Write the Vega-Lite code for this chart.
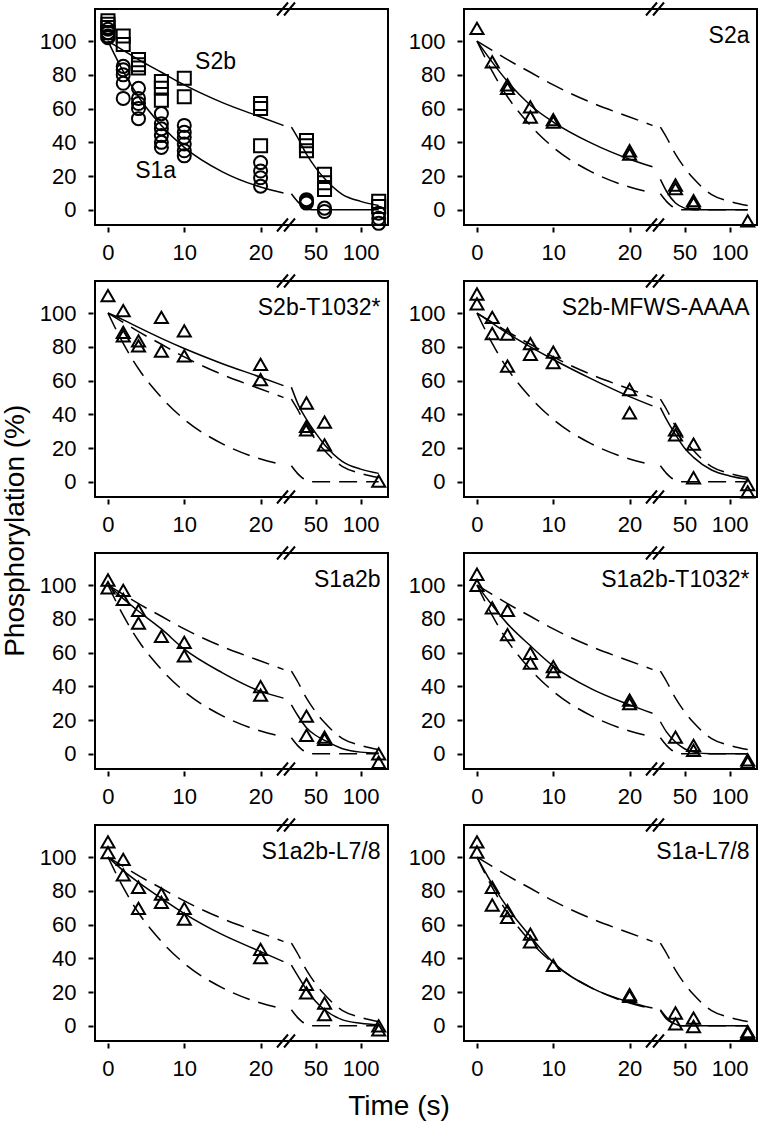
{
"$schema": "https://vega.github.io/schema/vega-lite/v6.json",
"background": "white",
"padding": {"left": 2, "top": 0, "right": 2, "bottom": 0},
"title": {"text": "Phosphorylation (%)", "orient": "left", "anchor": "middle", "fontSize": 28, "fontWeight": "normal", "font": "Liberation Sans", "color": "black", "offset": 8, "dx": 30},
"data": {"values": [
{"k":"P","ps":[1],"lab":""},
{"k":"P","ps":[2],"lab":"S2a"},
{"k":"P","ps":[3],"lab":"S2b-T1032*"},
{"k":"P","ps":[4],"lab":"S2b-MFWS-AAAA"},
{"k":"P","ps":[5],"lab":"S1a2b"},
{"k":"P","ps":[6],"lab":"S1a2b-T1032*"},
{"k":"P","ps":[7],"lab":"S1a2b-L7/8"},
{"k":"P","ps":[8],"lab":"S1a-L7/8"},
{"k":"A","ps":[1],"lab":"S2b","t":14.1,"v":87.7},
{"k":"A","ps":[1],"lab":"S1a","t":6.25,"v":23.2},

{"k":"ref","c":"S2b","g":1,"ps":[1,2,3,4,5,6,7,8],"t":0,"v":100},
{"k":"ref","c":"S2b","g":1,"ps":[1,2,3,4,5,6,7,8],"t":2,"v":94.5},
{"k":"ref","c":"S2b","g":1,"ps":[1,2,3,4,5,6,7,8],"t":4,"v":89},
{"k":"ref","c":"S2b","g":1,"ps":[1,2,3,4,5,6,7,8],"t":7,"v":81.5},
{"k":"ref","c":"S2b","g":1,"ps":[1,2,3,4,5,6,7,8],"t":10,"v":74},
{"k":"ref","c":"S2b","g":1,"ps":[1,2,3,4,5,6,7,8],"t":15,"v":63.5},
{"k":"ref","c":"S2b","g":1,"ps":[1,2,3,4,5,6,7,8],"t":20,"v":55},
{"k":"ref","c":"S2b","g":1,"ps":[1,2,3,4,5,6,7,8],"t":23,"v":50},
{"k":"ref","c":"S2b","g":2,"ps":[1,2,3,4,5,6,7,8],"t":23.3,"v":49},
{"k":"ref","c":"S2b","g":2,"ps":[1,2,3,4,5,6,7,8],"t":30,"v":43},
{"k":"ref","c":"S2b","g":2,"ps":[1,2,3,4,5,6,7,8],"t":40,"v":33},
{"k":"ref","c":"S2b","g":2,"ps":[1,2,3,4,5,6,7,8],"t":50,"v":25},
{"k":"ref","c":"S2b","g":2,"ps":[1,2,3,4,5,6,7,8],"t":60,"v":18.5},
{"k":"ref","c":"S2b","g":2,"ps":[1,2,3,4,5,6,7,8],"t":80,"v":9},
{"k":"ref","c":"S2b","g":2,"ps":[1,2,3,4,5,6,7,8],"t":100,"v":5},
{"k":"ref","c":"S2b","g":2,"ps":[1,2,3,4,5,6,7,8],"t":120,"v":2.5},
{"k":"ref","c":"S1a","g":1,"ps":[1,2,3,4,5,6,7,8],"t":0,"v":100},
{"k":"ref","c":"S1a","g":1,"ps":[1,2,3,4,5,6,7,8],"t":2,"v":82},
{"k":"ref","c":"S1a","g":1,"ps":[1,2,3,4,5,6,7,8],"t":4,"v":67},
{"k":"ref","c":"S1a","g":1,"ps":[1,2,3,4,5,6,7,8],"t":7,"v":50},
{"k":"ref","c":"S1a","g":1,"ps":[1,2,3,4,5,6,7,8],"t":10,"v":37},
{"k":"ref","c":"S1a","g":1,"ps":[1,2,3,4,5,6,7,8],"t":15,"v":22.5},
{"k":"ref","c":"S1a","g":1,"ps":[1,2,3,4,5,6,7,8],"t":20,"v":13.5},
{"k":"ref","c":"S1a","g":1,"ps":[1,2,3,4,5,6,7,8],"t":23,"v":10},
{"k":"ref","c":"S1a","g":2,"ps":[1,2,3,4,5,6,7,8],"t":23.3,"v":9.5},
{"k":"ref","c":"S1a","g":2,"ps":[1,2,3,4,5,6,7,8],"t":30,"v":5},
{"k":"ref","c":"S1a","g":2,"ps":[1,2,3,4,5,6,7,8],"t":35,"v":2.5},
{"k":"ref","c":"S1a","g":2,"ps":[1,2,3,4,5,6,7,8],"t":40,"v":1},
{"k":"ref","c":"S1a","g":2,"ps":[1,2,3,4,5,6,7,8],"t":46,"v":0},
{"k":"ref","c":"S1a","g":2,"ps":[1,2,3,4,5,6,7,8],"t":60,"v":0},
{"k":"ref","c":"S1a","g":2,"ps":[1,2,3,4,5,6,7,8],"t":80,"v":0},
{"k":"ref","c":"S1a","g":2,"ps":[1,2,3,4,5,6,7,8],"t":120,"v":0},

{"k":"fit","g":1,"ps":[2],"t":0,"v":100},{"k":"fit","g":1,"ps":[2],"t":2,"v":87.5},{"k":"fit","g":1,"ps":[2],"t":4,"v":76},{"k":"fit","g":1,"ps":[2],"t":7,"v":62},{"k":"fit","g":1,"ps":[2],"t":10,"v":52},{"k":"fit","g":1,"ps":[2],"t":15,"v":39.5},{"k":"fit","g":1,"ps":[2],"t":20,"v":30},{"k":"fit","g":1,"ps":[2],"t":23,"v":25.5},
{"k":"fit","g":2,"ps":[2],"t":23.3,"v":18},{"k":"fit","g":2,"ps":[2],"t":30,"v":11},{"k":"fit","g":2,"ps":[2],"t":40,"v":4},{"k":"fit","g":2,"ps":[2],"t":50,"v":1},{"k":"fit","g":2,"ps":[2],"t":60,"v":0},{"k":"fit","g":2,"ps":[2],"t":120,"v":0},

{"k":"fit","g":1,"ps":[3],"t":0,"v":100},{"k":"fit","g":1,"ps":[3],"t":2,"v":96},{"k":"fit","g":1,"ps":[3],"t":4,"v":91.5},{"k":"fit","g":1,"ps":[3],"t":7,"v":85},{"k":"fit","g":1,"ps":[3],"t":10,"v":79},{"k":"fit","g":1,"ps":[3],"t":15,"v":70},{"k":"fit","g":1,"ps":[3],"t":20,"v":62},{"k":"fit","g":1,"ps":[3],"t":23,"v":57},
{"k":"fit","g":2,"ps":[3],"t":23.3,"v":56},{"k":"fit","g":2,"ps":[3],"t":31.5,"v":45},{"k":"fit","g":2,"ps":[3],"t":40,"v":37},{"k":"fit","g":2,"ps":[3],"t":50,"v":29},{"k":"fit","g":2,"ps":[3],"t":60,"v":22},{"k":"fit","g":2,"ps":[3],"t":80,"v":12},{"k":"fit","g":2,"ps":[3],"t":100,"v":7.5},{"k":"fit","g":2,"ps":[3],"t":120,"v":5},

{"k":"fit","g":1,"ps":[4],"t":0,"v":100},{"k":"fit","g":1,"ps":[4],"t":2,"v":94},{"k":"fit","g":1,"ps":[4],"t":4,"v":88},{"k":"fit","g":1,"ps":[4],"t":7,"v":80},{"k":"fit","g":1,"ps":[4],"t":10,"v":72.5},{"k":"fit","g":1,"ps":[4],"t":15,"v":61},{"k":"fit","g":1,"ps":[4],"t":20,"v":50.5},{"k":"fit","g":1,"ps":[4],"t":23,"v":45},
{"k":"fit","g":2,"ps":[4],"t":23.3,"v":44},{"k":"fit","g":2,"ps":[4],"t":30,"v":37},{"k":"fit","g":2,"ps":[4],"t":40,"v":28},{"k":"fit","g":2,"ps":[4],"t":50,"v":20},{"k":"fit","g":2,"ps":[4],"t":60,"v":14.5},{"k":"fit","g":2,"ps":[4],"t":80,"v":7},{"k":"fit","g":2,"ps":[4],"t":100,"v":3.5},{"k":"fit","g":2,"ps":[4],"t":120,"v":1.5},

{"k":"fit","g":1,"ps":[5],"t":0,"v":100},{"k":"fit","g":1,"ps":[5],"t":2,"v":92},{"k":"fit","g":1,"ps":[5],"t":4,"v":84.5},{"k":"fit","g":1,"ps":[5],"t":7,"v":74},{"k":"fit","g":1,"ps":[5],"t":10,"v":62},{"k":"fit","g":1,"ps":[5],"t":15,"v":48},{"k":"fit","g":1,"ps":[5],"t":20,"v":37},{"k":"fit","g":1,"ps":[5],"t":23,"v":33},
{"k":"fit","g":2,"ps":[5],"t":23.3,"v":29},{"k":"fit","g":2,"ps":[5],"t":30,"v":23},{"k":"fit","g":2,"ps":[5],"t":40,"v":15.5},{"k":"fit","g":2,"ps":[5],"t":50,"v":11},{"k":"fit","g":2,"ps":[5],"t":60,"v":8},{"k":"fit","g":2,"ps":[5],"t":80,"v":3},{"k":"fit","g":2,"ps":[5],"t":100,"v":1},{"k":"fit","g":2,"ps":[5],"t":120,"v":0.5},

{"k":"fit","g":1,"ps":[6],"t":0,"v":100},{"k":"fit","g":1,"ps":[6],"t":2,"v":88},{"k":"fit","g":1,"ps":[6],"t":4,"v":77},{"k":"fit","g":1,"ps":[6],"t":7,"v":64},{"k":"fit","g":1,"ps":[6],"t":10,"v":52},{"k":"fit","g":1,"ps":[6],"t":15,"v":38.5},{"k":"fit","g":1,"ps":[6],"t":20,"v":29},{"k":"fit","g":1,"ps":[6],"t":23,"v":24},
{"k":"fit","g":2,"ps":[6],"t":23.3,"v":19},{"k":"fit","g":2,"ps":[6],"t":30,"v":13},{"k":"fit","g":2,"ps":[6],"t":40,"v":7},{"k":"fit","g":2,"ps":[6],"t":50,"v":3},{"k":"fit","g":2,"ps":[6],"t":60,"v":1},{"k":"fit","g":2,"ps":[6],"t":80,"v":0},{"k":"fit","g":2,"ps":[6],"t":120,"v":0},

{"k":"fit","g":1,"ps":[7],"t":0,"v":100},{"k":"fit","g":1,"ps":[7],"t":2,"v":92},{"k":"fit","g":1,"ps":[7],"t":4,"v":85},{"k":"fit","g":1,"ps":[7],"t":7,"v":75.5},{"k":"fit","g":1,"ps":[7],"t":10,"v":66.5},{"k":"fit","g":1,"ps":[7],"t":15,"v":54},{"k":"fit","g":1,"ps":[7],"t":20,"v":44},{"k":"fit","g":1,"ps":[7],"t":23,"v":38},
{"k":"fit","g":2,"ps":[7],"t":23.3,"v":36},{"k":"fit","g":2,"ps":[7],"t":30,"v":30},{"k":"fit","g":2,"ps":[7],"t":40,"v":21.5},{"k":"fit","g":2,"ps":[7],"t":50,"v":14.5},{"k":"fit","g":2,"ps":[7],"t":60,"v":9.5},{"k":"fit","g":2,"ps":[7],"t":80,"v":3.5},{"k":"fit","g":2,"ps":[7],"t":100,"v":1.5},{"k":"fit","g":2,"ps":[7],"t":120,"v":0.5},

{"k":"fit","g":1,"ps":[8],"t":0,"v":100},{"k":"fit","g":1,"ps":[8],"t":2,"v":84},{"k":"fit","g":1,"ps":[8],"t":4,"v":70},{"k":"fit","g":1,"ps":[8],"t":7,"v":53},{"k":"fit","g":1,"ps":[8],"t":10,"v":37.5},{"k":"fit","g":1,"ps":[8],"t":15,"v":22.5},{"k":"fit","g":1,"ps":[8],"t":20,"v":14},{"k":"fit","g":1,"ps":[8],"t":23,"v":10.5},
{"k":"fit","g":2,"ps":[8],"t":23.3,"v":9},{"k":"fit","g":2,"ps":[8],"t":30,"v":4},{"k":"fit","g":2,"ps":[8],"t":40,"v":1},{"k":"fit","g":2,"ps":[8],"t":46,"v":0},{"k":"fit","g":2,"ps":[8],"t":60,"v":0},{"k":"fit","g":2,"ps":[8],"t":120,"v":0},

{"k":"pt","sh":"sq","ps":[1],"t":0,"v":112},{"k":"pt","sh":"sq","ps":[1],"t":0,"v":110},{"k":"pt","sh":"sq","ps":[1],"t":0,"v":108},{"k":"pt","sh":"sq","ps":[1],"t":0,"v":105},
{"k":"pt","sh":"sq","ps":[1],"t":2,"v":103},{"k":"pt","sh":"sq","ps":[1],"t":2,"v":98},
{"k":"pt","sh":"sq","ps":[1],"t":4,"v":89},{"k":"pt","sh":"sq","ps":[1],"t":4,"v":86},{"k":"pt","sh":"sq","ps":[1],"t":4,"v":84},
{"k":"pt","sh":"sq","ps":[1],"t":7,"v":76},{"k":"pt","sh":"sq","ps":[1],"t":7,"v":72},{"k":"pt","sh":"sq","ps":[1],"t":7,"v":65},
{"k":"pt","sh":"sq","ps":[1],"t":10,"v":78},{"k":"pt","sh":"sq","ps":[1],"t":10,"v":67},
{"k":"pt","sh":"sq","ps":[1],"t":20,"v":63},{"k":"pt","sh":"sq","ps":[1],"t":20,"v":60},{"k":"pt","sh":"sq","ps":[1],"t":20,"v":38},
{"k":"pt","sh":"sq","ps":[1],"t":40,"v":41},{"k":"pt","sh":"sq","ps":[1],"t":40,"v":38},{"k":"pt","sh":"sq","ps":[1],"t":40,"v":35},
{"k":"pt","sh":"sq","ps":[1],"t":60,"v":21},{"k":"pt","sh":"sq","ps":[1],"t":60,"v":16},{"k":"pt","sh":"sq","ps":[1],"t":60,"v":12},
{"k":"pt","sh":"sq","ps":[1],"t":120,"v":5},{"k":"pt","sh":"sq","ps":[1],"t":120,"v":2},

{"k":"pt","sh":"ci","ps":[1],"t":0,"v":107},{"k":"pt","sh":"ci","ps":[1],"t":0,"v":105},{"k":"pt","sh":"ci","ps":[1],"t":0,"v":103},{"k":"pt","sh":"ci","ps":[1],"t":0,"v":102},
{"k":"pt","sh":"ci","ps":[1],"t":2,"v":85},{"k":"pt","sh":"ci","ps":[1],"t":2,"v":83},{"k":"pt","sh":"ci","ps":[1],"t":2,"v":80},{"k":"pt","sh":"ci","ps":[1],"t":2,"v":75},{"k":"pt","sh":"ci","ps":[1],"t":2,"v":66},
{"k":"pt","sh":"ci","ps":[1],"t":4,"v":72},{"k":"pt","sh":"ci","ps":[1],"t":4,"v":66},{"k":"pt","sh":"ci","ps":[1],"t":4,"v":63},{"k":"pt","sh":"ci","ps":[1],"t":4,"v":60},{"k":"pt","sh":"ci","ps":[1],"t":4,"v":54},
{"k":"pt","sh":"ci","ps":[1],"t":7,"v":57},{"k":"pt","sh":"ci","ps":[1],"t":7,"v":51},{"k":"pt","sh":"ci","ps":[1],"t":7,"v":48},{"k":"pt","sh":"ci","ps":[1],"t":7,"v":44},{"k":"pt","sh":"ci","ps":[1],"t":7,"v":40},{"k":"pt","sh":"ci","ps":[1],"t":7,"v":37},
{"k":"pt","sh":"ci","ps":[1],"t":10,"v":50},{"k":"pt","sh":"ci","ps":[1],"t":10,"v":46},{"k":"pt","sh":"ci","ps":[1],"t":10,"v":43},{"k":"pt","sh":"ci","ps":[1],"t":10,"v":39},{"k":"pt","sh":"ci","ps":[1],"t":10,"v":35},{"k":"pt","sh":"ci","ps":[1],"t":10,"v":32},
{"k":"pt","sh":"ci","ps":[1],"t":20,"v":28},{"k":"pt","sh":"ci","ps":[1],"t":20,"v":23},{"k":"pt","sh":"ci","ps":[1],"t":20,"v":19},{"k":"pt","sh":"ci","ps":[1],"t":20,"v":14},
{"k":"pt","sh":"ci","ps":[1],"t":40,"v":6},{"k":"pt","sh":"ci","ps":[1],"t":40,"v":5},{"k":"pt","sh":"ci","ps":[1],"t":40,"v":4},
{"k":"pt","sh":"ci","ps":[1],"t":60,"v":1},{"k":"pt","sh":"ci","ps":[1],"t":60,"v":-1},
{"k":"pt","sh":"ci","ps":[1],"t":120,"v":-2},{"k":"pt","sh":"ci","ps":[1],"t":120,"v":-5},{"k":"pt","sh":"ci","ps":[1],"t":120,"v":-8},

{"k":"pt","sh":"tr","ps":[2],"t":0,"v":107.5},{"k":"pt","sh":"tr","ps":[2],"t":2,"v":87.7},{"k":"pt","sh":"tr","ps":[2],"t":4,"v":74},{"k":"pt","sh":"tr","ps":[2],"t":4,"v":72},{"k":"pt","sh":"tr","ps":[2],"t":7,"v":61},{"k":"pt","sh":"tr","ps":[2],"t":7,"v":55},{"k":"pt","sh":"tr","ps":[2],"t":10,"v":53.5},{"k":"pt","sh":"tr","ps":[2],"t":10,"v":52},{"k":"pt","sh":"tr","ps":[2],"t":20,"v":35},{"k":"pt","sh":"tr","ps":[2],"t":20,"v":33},{"k":"pt","sh":"tr","ps":[2],"t":40,"v":14.7},{"k":"pt","sh":"tr","ps":[2],"t":40,"v":12.5},{"k":"pt","sh":"tr","ps":[2],"t":60,"v":5.4},{"k":"pt","sh":"tr","ps":[2],"t":60,"v":4},{"k":"pt","sh":"tr","ps":[2],"t":120,"v":-6.5},

{"k":"pt","sh":"tr","ps":[3],"t":0,"v":110.3},{"k":"pt","sh":"tr","ps":[3],"t":2,"v":101.4},{"k":"pt","sh":"tr","ps":[3],"t":2,"v":88.5},{"k":"pt","sh":"tr","ps":[3],"t":2,"v":86.5},{"k":"pt","sh":"tr","ps":[3],"t":4,"v":83.5},{"k":"pt","sh":"tr","ps":[3],"t":4,"v":80.5},{"k":"pt","sh":"tr","ps":[3],"t":7,"v":97.4},{"k":"pt","sh":"tr","ps":[3],"t":7,"v":77.5},{"k":"pt","sh":"tr","ps":[3],"t":10,"v":89.5},{"k":"pt","sh":"tr","ps":[3],"t":10,"v":74.6},{"k":"pt","sh":"tr","ps":[3],"t":20,"v":69.6},{"k":"pt","sh":"tr","ps":[3],"t":20,"v":60.6},{"k":"pt","sh":"tr","ps":[3],"t":40,"v":46.7},{"k":"pt","sh":"tr","ps":[3],"t":40,"v":32.8},{"k":"pt","sh":"tr","ps":[3],"t":40,"v":30.8},{"k":"pt","sh":"tr","ps":[3],"t":60,"v":35.4},{"k":"pt","sh":"tr","ps":[3],"t":60,"v":21.9},{"k":"pt","sh":"tr","ps":[3],"t":120,"v":0.4},

{"k":"pt","sh":"tr","ps":[4],"t":0,"v":111.3},{"k":"pt","sh":"tr","ps":[4],"t":0,"v":105.4},{"k":"pt","sh":"tr","ps":[4],"t":2,"v":97.4},{"k":"pt","sh":"tr","ps":[4],"t":2,"v":87.9},{"k":"pt","sh":"tr","ps":[4],"t":4,"v":87.5},{"k":"pt","sh":"tr","ps":[4],"t":4,"v":68.6},{"k":"pt","sh":"tr","ps":[4],"t":7,"v":81.9},{"k":"pt","sh":"tr","ps":[4],"t":7,"v":75.5},{"k":"pt","sh":"tr","ps":[4],"t":10,"v":76.9},{"k":"pt","sh":"tr","ps":[4],"t":10,"v":70.6},{"k":"pt","sh":"tr","ps":[4],"t":20,"v":54.7},{"k":"pt","sh":"tr","ps":[4],"t":20,"v":40.8},{"k":"pt","sh":"tr","ps":[4],"t":40,"v":30.8},{"k":"pt","sh":"tr","ps":[4],"t":40,"v":27.8},{"k":"pt","sh":"tr","ps":[4],"t":60,"v":22.3},{"k":"pt","sh":"tr","ps":[4],"t":60,"v":2.4},{"k":"pt","sh":"tr","ps":[4],"t":120,"v":-1.6},{"k":"pt","sh":"tr","ps":[4],"t":120,"v":-6},

{"k":"pt","sh":"tr","ps":[5],"t":0,"v":103},{"k":"pt","sh":"tr","ps":[5],"t":0,"v":98.4},{"k":"pt","sh":"tr","ps":[5],"t":2,"v":96.8},{"k":"pt","sh":"tr","ps":[5],"t":2,"v":91.5},{"k":"pt","sh":"tr","ps":[5],"t":4,"v":85},{"k":"pt","sh":"tr","ps":[5],"t":4,"v":77.5},{"k":"pt","sh":"tr","ps":[5],"t":7,"v":69.6},{"k":"pt","sh":"tr","ps":[5],"t":10,"v":66},{"k":"pt","sh":"tr","ps":[5],"t":10,"v":58},{"k":"pt","sh":"tr","ps":[5],"t":20,"v":39.8},{"k":"pt","sh":"tr","ps":[5],"t":20,"v":34.8},{"k":"pt","sh":"tr","ps":[5],"t":40,"v":22.3},{"k":"pt","sh":"tr","ps":[5],"t":40,"v":10.9},{"k":"pt","sh":"tr","ps":[5],"t":60,"v":9.9},{"k":"pt","sh":"tr","ps":[5],"t":60,"v":8.5},{"k":"pt","sh":"tr","ps":[5],"t":120,"v":0},{"k":"pt","sh":"tr","ps":[5],"t":120,"v":-5},

{"k":"pt","sh":"tr","ps":[6],"t":0,"v":106.4},{"k":"pt","sh":"tr","ps":[6],"t":0,"v":99.8},{"k":"pt","sh":"tr","ps":[6],"t":2,"v":86.5},{"k":"pt","sh":"tr","ps":[6],"t":4,"v":85},{"k":"pt","sh":"tr","ps":[6],"t":4,"v":70.6},{"k":"pt","sh":"tr","ps":[6],"t":7,"v":59.6},{"k":"pt","sh":"tr","ps":[6],"t":7,"v":53.7},{"k":"pt","sh":"tr","ps":[6],"t":10,"v":51.7},{"k":"pt","sh":"tr","ps":[6],"t":10,"v":48.7},{"k":"pt","sh":"tr","ps":[6],"t":20,"v":31.8},{"k":"pt","sh":"tr","ps":[6],"t":20,"v":29.8},{"k":"pt","sh":"tr","ps":[6],"t":40,"v":9.9},{"k":"pt","sh":"tr","ps":[6],"t":60,"v":5},{"k":"pt","sh":"tr","ps":[6],"t":60,"v":2},{"k":"pt","sh":"tr","ps":[6],"t":120,"v":-3.6},{"k":"pt","sh":"tr","ps":[6],"t":120,"v":-5},

{"k":"pt","sh":"tr","ps":[7],"t":0,"v":109},{"k":"pt","sh":"tr","ps":[7],"t":0,"v":102.6},{"k":"pt","sh":"tr","ps":[7],"t":2,"v":98.6},{"k":"pt","sh":"tr","ps":[7],"t":2,"v":89.5},{"k":"pt","sh":"tr","ps":[7],"t":4,"v":82.1},{"k":"pt","sh":"tr","ps":[7],"t":4,"v":69.6},{"k":"pt","sh":"tr","ps":[7],"t":7,"v":78.1},{"k":"pt","sh":"tr","ps":[7],"t":7,"v":73.2},{"k":"pt","sh":"tr","ps":[7],"t":10,"v":69.6},{"k":"pt","sh":"tr","ps":[7],"t":10,"v":63.2},{"k":"pt","sh":"tr","ps":[7],"t":20,"v":45.3},{"k":"pt","sh":"tr","ps":[7],"t":20,"v":40.4},{"k":"pt","sh":"tr","ps":[7],"t":40,"v":24.5},{"k":"pt","sh":"tr","ps":[7],"t":40,"v":19.5},{"k":"pt","sh":"tr","ps":[7],"t":60,"v":13.5},{"k":"pt","sh":"tr","ps":[7],"t":60,"v":6.6},{"k":"pt","sh":"tr","ps":[7],"t":120,"v":0},{"k":"pt","sh":"tr","ps":[7],"t":120,"v":-2.4},

{"k":"pt","sh":"tr","ps":[8],"t":0,"v":109},{"k":"pt","sh":"tr","ps":[8],"t":0,"v":103},{"k":"pt","sh":"tr","ps":[8],"t":2,"v":82},{"k":"pt","sh":"tr","ps":[8],"t":2,"v":71.6},{"k":"pt","sh":"tr","ps":[8],"t":4,"v":68.2},{"k":"pt","sh":"tr","ps":[8],"t":4,"v":64.2},{"k":"pt","sh":"tr","ps":[8],"t":7,"v":54.3},{"k":"pt","sh":"tr","ps":[8],"t":7,"v":49.7},{"k":"pt","sh":"tr","ps":[8],"t":10,"v":35.8},{"k":"pt","sh":"tr","ps":[8],"t":20,"v":18.5},{"k":"pt","sh":"tr","ps":[8],"t":20,"v":17.5},{"k":"pt","sh":"tr","ps":[8],"t":40,"v":7.6},{"k":"pt","sh":"tr","ps":[8],"t":40,"v":1.2},{"k":"pt","sh":"tr","ps":[8],"t":60,"v":4.6},{"k":"pt","sh":"tr","ps":[8],"t":60,"v":-0.4},{"k":"pt","sh":"tr","ps":[8],"t":120,"v":-3.4},{"k":"pt","sh":"tr","ps":[8],"t":120,"v":-4.4}
]},
"transform": [{"flatten": ["ps"], "as": ["p"]}],
"facet": {"field": "p", "type": "ordinal", "header": {"title": "Time (s)", "titleOrient": "bottom", "labelOrient": "bottom", "labels": false, "labelExpr": "''", "labelFontSize": 0, "labelPadding": 0, "titleFont": "Liberation Sans", "titleFontSize": 28, "titleFontWeight": "normal", "titleColor": "black", "titlePadding": 13}},
"columns": 2,
"spacing": {"row": 8, "column": 16},
"resolve": {"axis": {"x": "independent", "y": "independent"}},
"spec": {
  "width": 293,
  "height": 216,
  "layer": [
    {
      "transform": [{"filter": "datum.k == 'ref' && datum.p > 1"}],
      "mark": {"type": "line", "color": "black", "strokeWidth": 1.5, "strokeDash": [18, 9], "interpolate": "monotone", "clip": false},
      "encoding": {
        "x": {"field": "t", "type": "quantitative", "title": null,
          "scale": {"domain": [-1.7, 23.2, 23.3, 130.3], "range": [0, 190, 196.4, 293], "nice": false, "zero": false},
          "axis": {"values": [0, 10, 20, 50, 100], "labelPadding": 10}},
        "y": {"field": "v", "type": "quantitative", "title": null,
          "scale": {"domain": [-9, 119], "nice": false, "zero": false},
          "axis": {"values": [0, 20, 40, 60, 80, 100], "labelPadding": 12}},
        "detail": [{"field": "c"}, {"field": "g"}]
      }
    },
    {
      "transform": [{"filter": "datum.k == 'ref' && datum.p == 1"}],
      "mark": {"type": "line", "color": "black", "strokeWidth": 1.5, "interpolate": "monotone"},
      "encoding": {
        "x": {"field": "t", "type": "quantitative", "title": null},
        "y": {"field": "v", "type": "quantitative", "title": null},
        "detail": [{"field": "c"}, {"field": "g"}]
      }
    },
    {
      "transform": [{"filter": "datum.k == 'fit'"}],
      "mark": {"type": "line", "color": "black", "strokeWidth": 1.5, "interpolate": "monotone"},
      "encoding": {
        "x": {"field": "t", "type": "quantitative", "title": null},
        "y": {"field": "v", "type": "quantitative", "title": null},
        "detail": {"field": "g"}
      }
    },
    {
      "transform": [{"filter": "datum.k == 'pt'"}],
      "mark": {"type": "point", "filled": false, "color": "black", "strokeWidth": 2, "size": 170, "opacity": 1, "clip": false},
      "encoding": {
        "x": {"field": "t", "type": "quantitative", "title": null},
        "y": {"field": "v", "type": "quantitative", "title": null},
        "shape": {"field": "sh", "type": "nominal", "legend": null,
          "scale": {"domain": ["sq", "ci", "tr"], "range": ["square", "circle", "triangle-up"]}}
      }
    },
    {
      "transform": [{"filter": "datum.k == 'P'"}],
      "mark": {"type": "text", "align": "right", "baseline": "middle", "font": "Liberation Sans", "fontSize": 23, "color": "black"},
      "encoding": {
        "x": {"datum": 122, "type": "quantitative"},
        "y": {"datum": 103, "type": "quantitative"},
        "text": {"field": "lab"}
      }
    },
    {
      "transform": [{"filter": "datum.k == 'A'"}],
      "mark": {"type": "text", "align": "center", "baseline": "middle", "font": "Liberation Sans", "fontSize": 23, "color": "black"},
      "encoding": {
        "x": {"field": "t", "type": "quantitative", "title": null},
        "y": {"field": "v", "type": "quantitative", "title": null},
        "text": {"field": "lab"}
      }
    },
    {
      "transform": [{"filter": "datum.k == 'P'"}],
      "mark": {"type": "rule", "color": "black", "strokeWidth": 2},
      "encoding": {"x": {"datum": 22.15, "type": "quantitative"}, "x2": {"datum": 23.247}, "y": {"datum": -12.85, "type": "quantitative"}, "y2": {"datum": -5.15}}
    },
    {
      "transform": [{"filter": "datum.k == 'P'"}],
      "mark": {"type": "rule", "color": "black", "strokeWidth": 2},
      "encoding": {"x": {"datum": 23.07, "type": "quantitative"}, "x2": {"datum": 27.29}, "y": {"datum": -12.85, "type": "quantitative"}, "y2": {"datum": -5.15}}
    },
    {
      "transform": [{"filter": "datum.k == 'P'"}],
      "mark": {"type": "rule", "color": "black", "strokeWidth": 2},
      "encoding": {"x": {"datum": 22.15, "type": "quantitative"}, "x2": {"datum": 23.247}, "y": {"datum": 115.15, "type": "quantitative"}, "y2": {"datum": 122.85}}
    },
    {
      "transform": [{"filter": "datum.k == 'P'"}],
      "mark": {"type": "rule", "color": "black", "strokeWidth": 2},
      "encoding": {"x": {"datum": 23.07, "type": "quantitative"}, "x2": {"datum": 27.29}, "y": {"datum": 115.15, "type": "quantitative"}, "y2": {"datum": 122.85}}
    }
  ]
},
"config": {
  "view": {"stroke": "black", "strokeWidth": 2},
  "axis": {"domain": false, "grid": false, "ticks": true, "tickSize": 5, "tickWidth": 2, "tickColor": "black", "offset": 2,
    "labelFont": "Liberation Sans", "labelFontSize": 22, "labelColor": "black", "labelFlush": false, "labelOverlap": false, "labelBound": false, "title": null}
}
}
